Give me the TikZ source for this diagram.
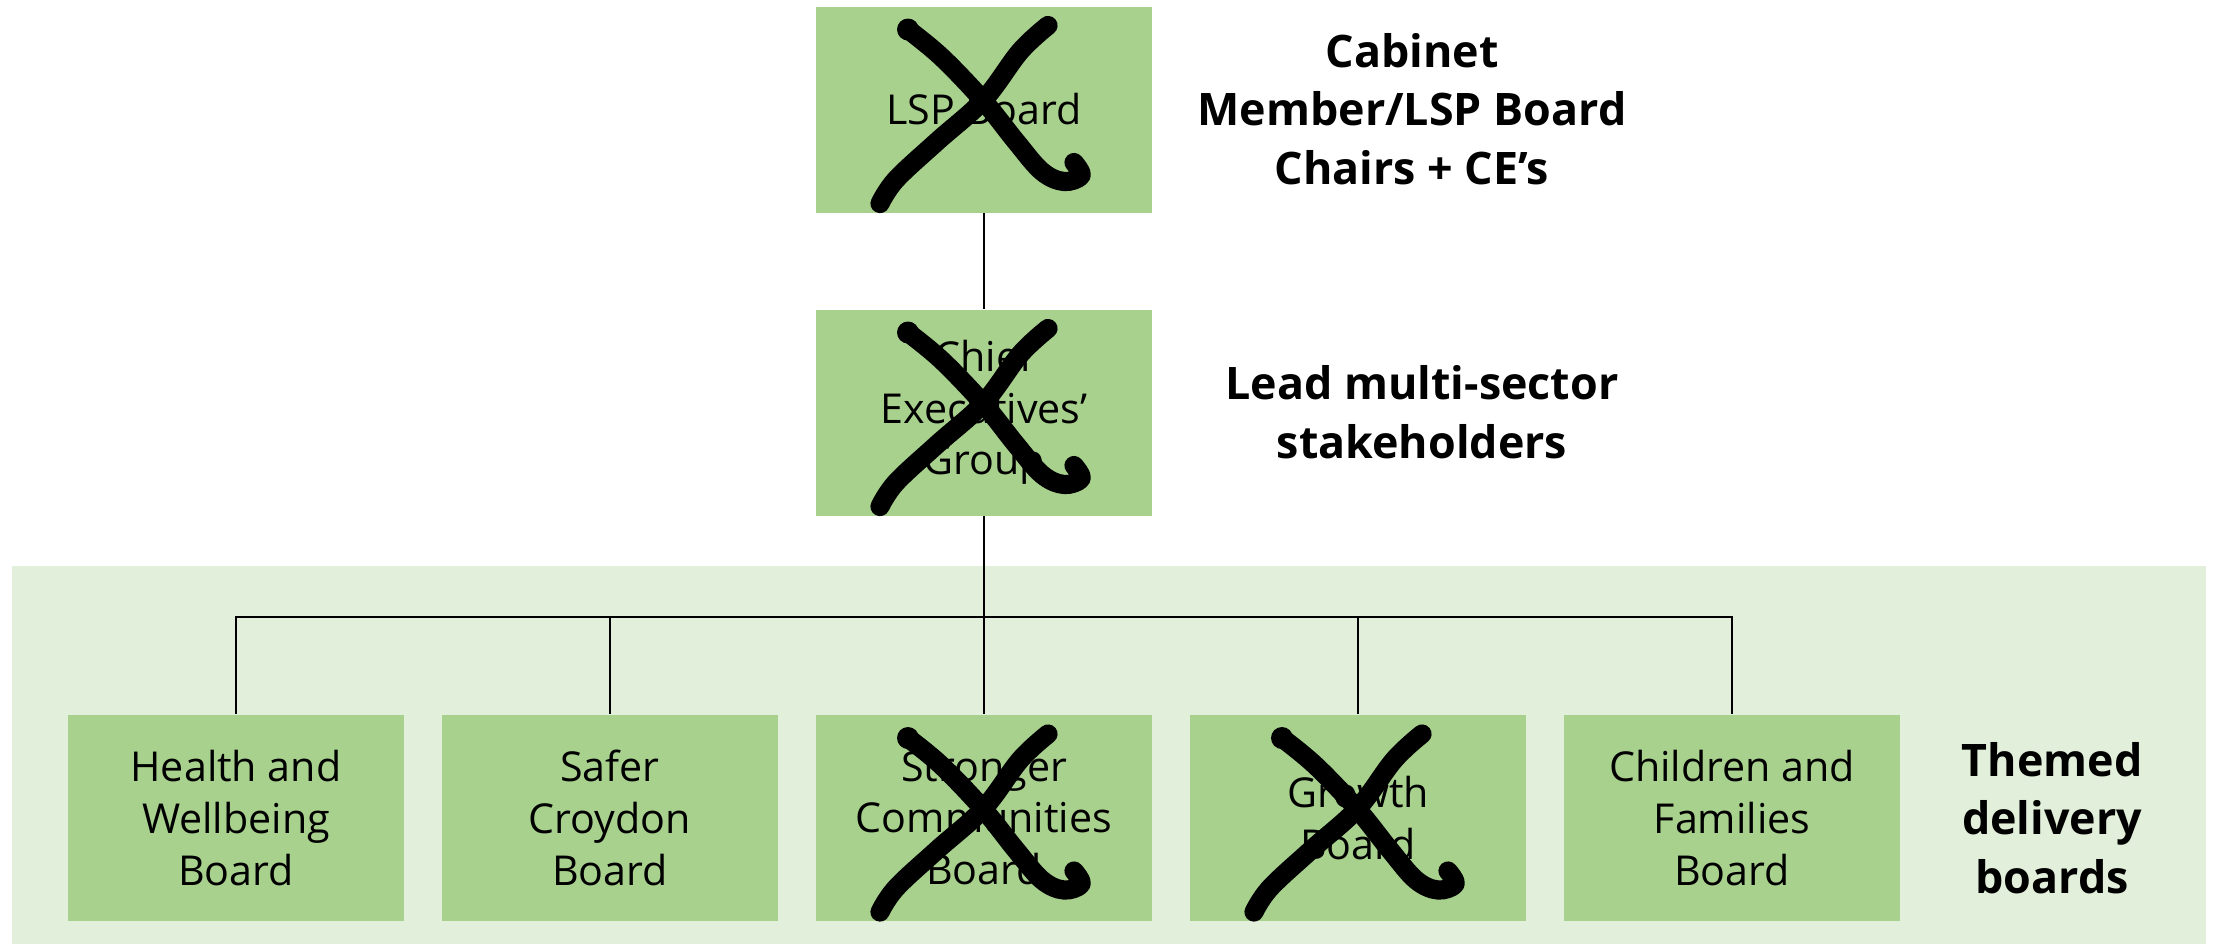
\documentclass[tikz,border=0pt]{standalone}
\usepackage{fontspec}
\setmainfont{Open Sans}
\usepackage{tikz}

% crossed-out mark over a board
\newcommand{\crossmark}[1]{%
\begin{scope}[shift={(#1.center)}]
\draw[xstroke] plot[smooth,tension=0.6] coordinates {(-76,-80) (-42,-52) (0,-8) (32,32) (58,62) (80,72) (97,66) (90,53)};
\draw[xstroke] plot[smooth,tension=0.6] coordinates {(64,-84) (36,-58) (0,-10) (-47,32) (-88,70) (-104,94)};
\fill (-76,-80) circle (11);
\end{scope}}

\begin{document}
\begin{tikzpicture}[x=0.25pt,y=-0.25pt,
  board/.style={fill=boxColor,draw=none,minimum width=84pt,minimum height=51.5pt,
    inner sep=0pt,align=center,font=\fontsize{10.3}{12.9}\selectfont},
  tier/.style={align=center,inner sep=0pt,font=\fontsize{11.2}{14.6}\selectfont\bfseries},
  link/.style={draw=lineColor,line width=0.3pt},
  xstroke/.style={draw=black,line width=4.8pt,line cap=round,line join=round}]
\definecolor{boxColor}{RGB}{169,209,142}
\definecolor{panelColor}{RGB}{226,239,218}
\definecolor{lineColor}{RGB}{0,0,0}

\path[use as bounding box,fill=white] (0,0) rectangle (2219,947);
\path[fill=panelColor] (12,566) rectangle (2206,944);

\node[board] (lsp) at (984,109.5) {LSP Board};
\node[board] (ceg) at (984,412.5) {Chief\\Executives'\\Group};

\node[board] (health) at (236,818) {Health and\\Wellbeing\\Board};
\node[board] (safer) at (610,818) {Safer\\Croydon\\Board};
\node[board] (stronger) at (984,818) {Stronger\\Communities\\Board};
\node[board] (growth) at (1358,818) {Growth\\Board};
\node[board] (children) at (1732,818) {Children and\\Families\\Board};

\node[tier] (cabinet) at (1412,109) {Cabinet\\Member/LSP Board\\Chairs + CE’s};
\node[tier] (lead) at (1422,412) {Lead multi-sector\\stakeholders};
\node[tier] (themed) at (2052,818) {Themed\\delivery\\boards};

\coordinate (bus) at (984,617);
\draw[link] (lsp) -- (ceg);
\foreach \b in {health,safer,stronger,growth,children}
  \draw[link] (ceg.south) -- (ceg.south |- bus) -| (\b.north);

\crossmark{lsp}
\crossmark{ceg}
\crossmark{stronger}
\crossmark{growth}
\end{tikzpicture}
\end{document}
